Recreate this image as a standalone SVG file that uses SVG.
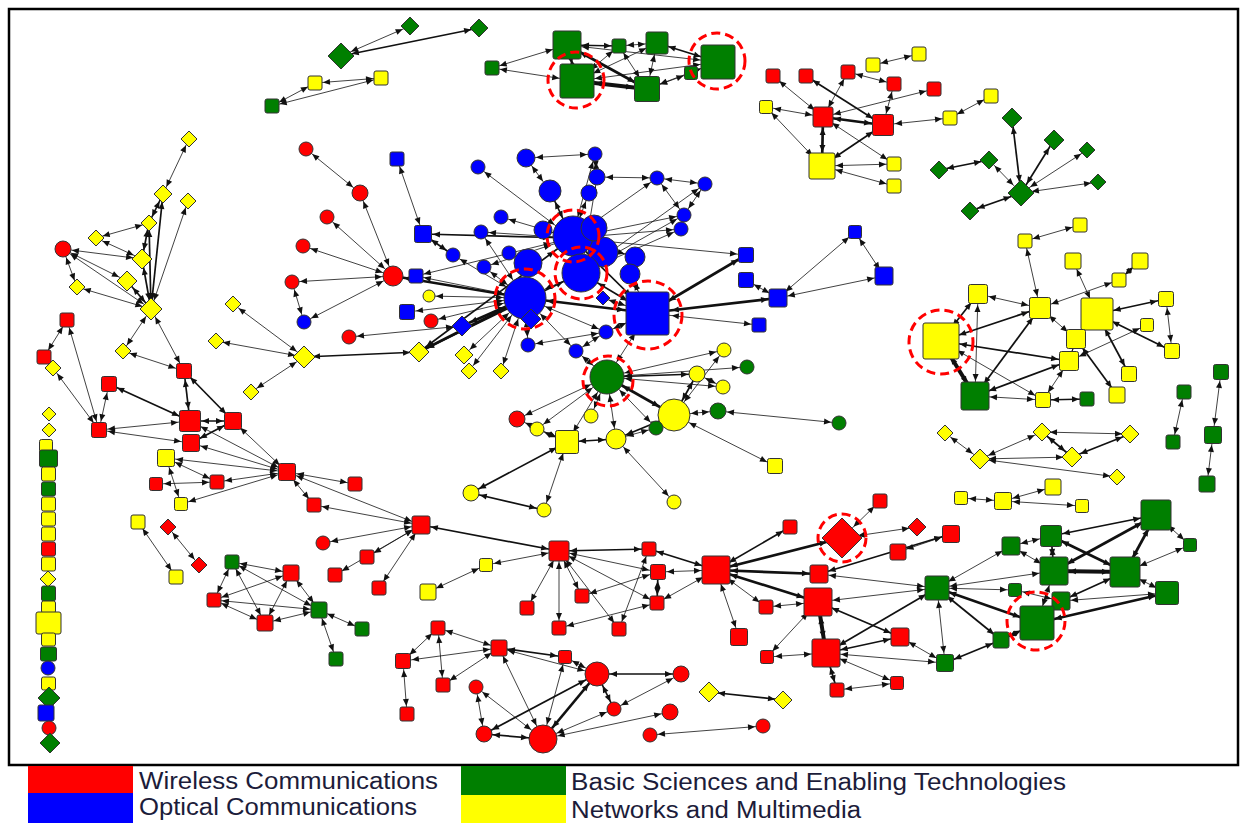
<svg xmlns="http://www.w3.org/2000/svg" width="1245" height="825" viewBox="0 0 1245 825">
<style>
.e line{stroke:#111;stroke-width:.8;fill:none}
.e .t2{stroke-width:1.7}
.e .t3{stroke-width:2.7}
.e .t4{stroke-width:4}
.n{stroke:#333;stroke-width:1}
.n rect{rx:2px}
.R{fill:#f00}.B{fill:#00f}.G{fill:#007f00}.Y{fill:#ff0}
.ring{fill:none;stroke:#f00;stroke-width:3;stroke-dasharray:9 5}
.lg{font-family:"Liberation Sans",Arial,sans-serif;font-size:23px;fill:#1c1c3a}
.s6{marker-start:url(#m6)}.s7{marker-start:url(#m7)}.s8{marker-start:url(#m8)}.s9{marker-start:url(#m9)}.s10{marker-start:url(#m10)}.s11{marker-start:url(#m11)}.s12{marker-start:url(#m12)}.s13{marker-start:url(#m13)}.s14{marker-start:url(#m14)}.s15{marker-start:url(#m15)}.s16{marker-start:url(#m16)}.s17{marker-start:url(#m17)}.s18{marker-start:url(#m18)}.s19{marker-start:url(#m19)}.s20{marker-start:url(#m20)}.s22{marker-start:url(#m22)}.s24{marker-start:url(#m24)}
.e6{marker-end:url(#m6)}.e7{marker-end:url(#m7)}.e8{marker-end:url(#m8)}.e9{marker-end:url(#m9)}.e10{marker-end:url(#m10)}.e11{marker-end:url(#m11)}.e12{marker-end:url(#m12)}.e13{marker-end:url(#m13)}.e14{marker-end:url(#m14)}.e15{marker-end:url(#m15)}.e16{marker-end:url(#m16)}.e17{marker-end:url(#m17)}.e18{marker-end:url(#m18)}.e19{marker-end:url(#m19)}.e20{marker-end:url(#m20)}.e22{marker-end:url(#m22)}.e24{marker-end:url(#m24)}
</style>
<defs>
<path id="ah" d="M0,0L-7,-3L-7,3z" fill="#111"/>
<marker id="m6" markerUnits="userSpaceOnUse" markerWidth="8" markerHeight="8" refX="6" refY="0" orient="auto-start-reverse" overflow="visible"><use href="#ah"/></marker>
<marker id="m7" markerUnits="userSpaceOnUse" markerWidth="8" markerHeight="8" refX="7" refY="0" orient="auto-start-reverse" overflow="visible"><use href="#ah"/></marker>
<marker id="m8" markerUnits="userSpaceOnUse" markerWidth="8" markerHeight="8" refX="8" refY="0" orient="auto-start-reverse" overflow="visible"><use href="#ah"/></marker>
<marker id="m9" markerUnits="userSpaceOnUse" markerWidth="8" markerHeight="8" refX="9" refY="0" orient="auto-start-reverse" overflow="visible"><use href="#ah"/></marker>
<marker id="m10" markerUnits="userSpaceOnUse" markerWidth="8" markerHeight="8" refX="10" refY="0" orient="auto-start-reverse" overflow="visible"><use href="#ah"/></marker>
<marker id="m11" markerUnits="userSpaceOnUse" markerWidth="8" markerHeight="8" refX="11" refY="0" orient="auto-start-reverse" overflow="visible"><use href="#ah"/></marker>
<marker id="m12" markerUnits="userSpaceOnUse" markerWidth="8" markerHeight="8" refX="12" refY="0" orient="auto-start-reverse" overflow="visible"><use href="#ah"/></marker>
<marker id="m13" markerUnits="userSpaceOnUse" markerWidth="8" markerHeight="8" refX="13" refY="0" orient="auto-start-reverse" overflow="visible"><use href="#ah"/></marker>
<marker id="m14" markerUnits="userSpaceOnUse" markerWidth="8" markerHeight="8" refX="14" refY="0" orient="auto-start-reverse" overflow="visible"><use href="#ah"/></marker>
<marker id="m15" markerUnits="userSpaceOnUse" markerWidth="8" markerHeight="8" refX="15" refY="0" orient="auto-start-reverse" overflow="visible"><use href="#ah"/></marker>
<marker id="m16" markerUnits="userSpaceOnUse" markerWidth="8" markerHeight="8" refX="16" refY="0" orient="auto-start-reverse" overflow="visible"><use href="#ah"/></marker>
<marker id="m17" markerUnits="userSpaceOnUse" markerWidth="8" markerHeight="8" refX="17" refY="0" orient="auto-start-reverse" overflow="visible"><use href="#ah"/></marker>
<marker id="m18" markerUnits="userSpaceOnUse" markerWidth="8" markerHeight="8" refX="18" refY="0" orient="auto-start-reverse" overflow="visible"><use href="#ah"/></marker>
<marker id="m19" markerUnits="userSpaceOnUse" markerWidth="8" markerHeight="8" refX="19" refY="0" orient="auto-start-reverse" overflow="visible"><use href="#ah"/></marker>
<marker id="m20" markerUnits="userSpaceOnUse" markerWidth="8" markerHeight="8" refX="20" refY="0" orient="auto-start-reverse" overflow="visible"><use href="#ah"/></marker>
<marker id="m22" markerUnits="userSpaceOnUse" markerWidth="8" markerHeight="8" refX="22" refY="0" orient="auto-start-reverse" overflow="visible"><use href="#ah"/></marker>
<marker id="m24" markerUnits="userSpaceOnUse" markerWidth="8" markerHeight="8" refX="24" refY="0" orient="auto-start-reverse" overflow="visible"><use href="#ah"/></marker>
</defs>
<rect width="1245" height="825" fill="#fff"/>
<rect x="9" y="9" width="1229" height="756" fill="none" stroke="#000" stroke-width="2.5"/>

<!-- connectors -->
<g id="edges" class="e">
<line x1="341" y1="56" x2="410" y2="26" class="s11 e8"/>
<line x1="479" y1="28" x2="341" y2="56" class="s8 e11 t2"/>
<line x1="315" y1="83" x2="381" y2="78" class="s8 e8"/>
<line x1="272" y1="106" x2="315" y2="83" class="s8 e8"/>
<line x1="381" y1="78" x2="272" y2="106" class="s8 e8"/>
<line x1="492" y1="68" x2="567" y2="45" class="s8 e15"/>
<line x1="492" y1="68" x2="577" y2="81" class="s8 e18"/>
<line x1="567" y1="45" x2="619" y2="46" class="s15 e8 t2"/>
<line x1="619" y1="46" x2="657" y2="43" class="s8 e12"/>
<line x1="657" y1="43" x2="718" y2="62" class="s12 e18 t2"/>
<line x1="567" y1="45" x2="647" y2="89" class="s15 e14 t3"/>
<line x1="577" y1="81" x2="647" y2="89" class="s18 e14 t4"/>
<line x1="577" y1="81" x2="619" y2="46" class="s18 e8"/>
<line x1="577" y1="81" x2="657" y2="43" class="s18 e12"/>
<line x1="567" y1="45" x2="577" y2="81" class="s15 e18 t2"/>
<line x1="647" y1="89" x2="691" y2="73" class="s14 e8"/>
<line x1="647" y1="89" x2="718" y2="62" class="s14 e18"/>
<line x1="657" y1="43" x2="647" y2="89" class="s12 e14"/>
<line x1="619" y1="46" x2="647" y2="89" class="s8 e14"/>
<line x1="577" y1="81" x2="718" y2="62" class="s18 e18"/>
<line x1="567" y1="45" x2="718" y2="62" class="s15 e18"/>
<line x1="773" y1="76" x2="823" y2="117" class="s8 e11"/>
<line x1="806" y1="76" x2="883" y2="125" class="s8 e12 t2"/>
<line x1="766" y1="107" x2="823" y2="117" class="s8 e11"/>
<line x1="766" y1="107" x2="822" y2="166" class="s8 e14"/>
<line x1="823" y1="117" x2="822" y2="166" class="s11 e14 t3"/>
<line x1="823" y1="117" x2="848" y2="72" class="s11 e8"/>
<line x1="848" y1="72" x2="894" y2="84" class="s8 e8"/>
<line x1="894" y1="84" x2="883" y2="125" class="s8 e12"/>
<line x1="934" y1="89" x2="823" y2="117" class="s8 e11"/>
<line x1="823" y1="117" x2="883" y2="125" class="s11 e12 t3"/>
<line x1="883" y1="125" x2="822" y2="166" class="s12 e14 t2"/>
<line x1="883" y1="125" x2="950" y2="118" class="s12 e8"/>
<line x1="950" y1="118" x2="991" y2="96" class="s8 e8"/>
<line x1="873" y1="65" x2="919" y2="54" class="s8 e8"/>
<line x1="823" y1="117" x2="894" y2="164" class="s11 e8"/>
<line x1="822" y1="166" x2="894" y2="164" class="s14 e8"/>
<line x1="822" y1="166" x2="894" y2="186" class="s14 e8"/>
<line x1="1021" y1="193" x2="1012" y2="118" class="s11 e9 t2"/>
<line x1="1021" y1="193" x2="1054" y2="140" class="s11 e9 t2"/>
<line x1="1021" y1="193" x2="1087" y2="150" class="s11 e7"/>
<line x1="1021" y1="193" x2="1098" y2="182" class="s11 e7"/>
<line x1="1021" y1="193" x2="989" y2="160" class="s11 e8"/>
<line x1="1021" y1="193" x2="970" y2="211" class="s11 e8 t2"/>
<line x1="989" y1="160" x2="939" y2="170" class="s8 e8 t2"/>
<line x1="1080" y1="225" x2="1025" y2="241" class="s8 e8"/>
<line x1="1025" y1="241" x2="1040" y2="308" class="s8 e12"/>
<line x1="1073" y1="261" x2="1097" y2="314" class="s9 e17"/>
<line x1="1140" y1="261" x2="1119" y2="280" class="s9 e8"/>
<line x1="1119" y1="280" x2="1040" y2="308" class="s8 e12"/>
<line x1="978" y1="294" x2="941" y2="341" class="s11 e19 t2"/>
<line x1="978" y1="294" x2="975" y2="396" class="s11 e15"/>
<line x1="978" y1="294" x2="1040" y2="308" class="s11 e12"/>
<line x1="1040" y1="308" x2="941" y2="341" class="s12 e19 t2"/>
<line x1="1040" y1="308" x2="975" y2="396" class="s12 e15 t2"/>
<line x1="1097" y1="314" x2="1166" y2="299" class="s17 e9 t2"/>
<line x1="1166" y1="299" x2="1172" y2="351" class="s9 e9"/>
<line x1="1097" y1="314" x2="1172" y2="351" class="s17 e9 t2"/>
<line x1="1097" y1="314" x2="1129" y2="374" class="s17 e9 t2"/>
<line x1="1040" y1="308" x2="1076" y2="339" class="s12 e11"/>
<line x1="1076" y1="339" x2="1117" y2="395" class="s11 e9 t2"/>
<line x1="1069" y1="361" x2="941" y2="341" class="s11 e19 t2"/>
<line x1="1069" y1="361" x2="975" y2="396" class="s11 e15 t2"/>
<line x1="1069" y1="361" x2="1043" y2="400" class="s11 e9"/>
<line x1="941" y1="341" x2="1043" y2="400" class="s19 e9"/>
<line x1="941" y1="341" x2="975" y2="396" class="s19 e15 t4"/>
<line x1="1043" y1="400" x2="1087" y2="399" class="s9 e8 t2"/>
<line x1="975" y1="396" x2="1043" y2="400" class="s15 e9"/>
<line x1="1147" y1="325" x2="1069" y2="361" class="s8 e11"/>
<line x1="1076" y1="339" x2="1069" y2="361" class="s11 e11"/>
<line x1="1221" y1="372" x2="1213" y2="435" class="s9 e10"/>
<line x1="1213" y1="435" x2="1207" y2="484" class="s10 e9"/>
<line x1="1184" y1="392" x2="1173" y2="442" class="s8 e8"/>
<line x1="945" y1="433" x2="980" y2="459" class="s7 e9"/>
<line x1="980" y1="459" x2="1042" y2="432" class="s9 e8"/>
<line x1="980" y1="459" x2="1072" y2="457" class="s9 e9"/>
<line x1="1042" y1="432" x2="1072" y2="457" class="s8 e9 t2"/>
<line x1="1130" y1="434" x2="1042" y2="432" class="s8 e8"/>
<line x1="1072" y1="457" x2="1130" y2="434" class="s9 e8 t2"/>
<line x1="980" y1="459" x2="1117" y2="477" class="s9 e7"/>
<line x1="961" y1="498" x2="1003" y2="501" class="s8 e10"/>
<line x1="1003" y1="501" x2="1053" y2="487" class="s10 e9"/>
<line x1="1003" y1="501" x2="1082" y2="506" class="s10 e8"/>
<line x1="526" y1="158" x2="595" y2="154" class="s10 e8"/>
<line x1="526" y1="158" x2="550" y2="191" class="s10 e12"/>
<line x1="595" y1="154" x2="597" y2="177" class="s8 e9"/>
<line x1="597" y1="177" x2="657" y2="178" class="s9 e8"/>
<line x1="657" y1="178" x2="705" y2="184" class="s8 e8"/>
<line x1="657" y1="178" x2="684" y2="215" class="s8 e8"/>
<line x1="705" y1="184" x2="684" y2="215" class="s8 e8"/>
<line x1="478" y1="167" x2="572" y2="238" class="s8 e22"/>
<line x1="550" y1="191" x2="572" y2="238" class="s12 e22 t2"/>
<line x1="589" y1="193" x2="572" y2="238" class="s9 e22"/>
<line x1="597" y1="177" x2="581" y2="273" class="s9 e20"/>
<line x1="684" y1="215" x2="581" y2="273" class="s8 e20"/>
<line x1="681" y1="229" x2="572" y2="238" class="s8 e22"/>
<line x1="657" y1="178" x2="572" y2="238" class="s8 e22"/>
<line x1="501" y1="217" x2="572" y2="238" class="s8 e22"/>
<line x1="481" y1="232" x2="525" y2="298" class="s8 e22"/>
<line x1="423" y1="234" x2="453" y2="255" class="s10 e8 t2"/>
<line x1="453" y1="255" x2="525" y2="298" class="s8 e22"/>
<line x1="484" y1="267" x2="525" y2="298" class="s8 e22"/>
<line x1="416" y1="276" x2="525" y2="298" class="s8 e22"/>
<line x1="393" y1="276" x2="525" y2="298" class="s11 e22 t3"/>
<line x1="407" y1="312" x2="525" y2="298" class="s9 e22"/>
<line x1="462" y1="326" x2="525" y2="298" class="s9 e22 t3"/>
<line x1="419" y1="352" x2="525" y2="298" class="s9 e22 t3"/>
<line x1="419" y1="352" x2="572" y2="238" class="s9 e22 t2"/>
<line x1="419" y1="352" x2="581" y2="273" class="s9 e20 t2"/>
<line x1="464" y1="355" x2="525" y2="298" class="s8 e22"/>
<line x1="469" y1="371" x2="525" y2="298" class="s7 e22"/>
<line x1="501" y1="371" x2="525" y2="298" class="s7 e22"/>
<line x1="528" y1="345" x2="525" y2="298" class="s8 e22"/>
<line x1="576" y1="351" x2="525" y2="298" class="s8 e22"/>
<line x1="606" y1="332" x2="525" y2="298" class="s8 e22"/>
<line x1="525" y1="298" x2="648" y2="313" class="s22 e24 t3"/>
<line x1="572" y1="238" x2="648" y2="313" class="s22 e24 t2"/>
<line x1="581" y1="273" x2="648" y2="313" class="s20 e24 t2"/>
<line x1="648" y1="313" x2="746" y2="255" class="s24 e9 t3"/>
<line x1="648" y1="313" x2="778" y2="298" class="s24 e10 t3"/>
<line x1="648" y1="313" x2="759" y2="325" class="s24 e8"/>
<line x1="778" y1="298" x2="746" y2="280" class="s10 e9"/>
<line x1="778" y1="298" x2="855" y2="232" class="s10 e8"/>
<line x1="855" y1="232" x2="884" y2="276" class="s8 e8"/>
<line x1="884" y1="276" x2="778" y2="298" class="s10 e10"/>
<line x1="606" y1="332" x2="648" y2="313" class="s8 e24"/>
<line x1="606" y1="332" x2="576" y2="351" class="s8 e8"/>
<line x1="576" y1="351" x2="607" y2="377" class="s8 e18"/>
<line x1="528" y1="345" x2="606" y2="332" class="s8 e8"/>
<line x1="431" y1="321" x2="525" y2="298" class="s8 e22"/>
<line x1="429" y1="296" x2="525" y2="298" class="s7 e22"/>
<line x1="349" y1="337" x2="462" y2="326" class="s8 e9"/>
<line x1="397" y1="159" x2="423" y2="234" class="s8 e10"/>
<line x1="543" y1="230" x2="572" y2="238" class="s10 e22"/>
<line x1="635" y1="257" x2="572" y2="238" class="s11 e22"/>
<line x1="630" y1="273" x2="648" y2="313" class="s11 e24"/>
<line x1="481" y1="232" x2="572" y2="238" class="s8 e22"/>
<line x1="484" y1="267" x2="572" y2="238" class="s8 e22"/>
<line x1="423" y1="234" x2="572" y2="238" class="s10 e22 t2"/>
<line x1="595" y1="154" x2="572" y2="238" class="s8 e22"/>
<line x1="746" y1="255" x2="572" y2="238" class="s9 e22"/>
<line x1="705" y1="184" x2="581" y2="273" class="s8 e20"/>
<line x1="684" y1="215" x2="572" y2="238" class="s8 e22"/>
<line x1="681" y1="229" x2="525" y2="298" class="s8 e22"/>
<line x1="416" y1="276" x2="572" y2="238" class="s8 e22"/>
<line x1="603" y1="298" x2="648" y2="313" class="s6 e24"/>
<line x1="360" y1="193" x2="393" y2="276" class="s9 e11"/>
<line x1="306" y1="149" x2="360" y2="193" class="s8 e9"/>
<line x1="393" y1="276" x2="327" y2="217" class="s11 e8"/>
<line x1="393" y1="276" x2="303" y2="246" class="s11 e8"/>
<line x1="292" y1="282" x2="393" y2="276" class="s8 e11"/>
<line x1="292" y1="282" x2="304" y2="322" class="s8 e8"/>
<line x1="393" y1="276" x2="304" y2="322" class="s11 e8"/>
<line x1="304" y1="357" x2="233" y2="304" class="s9 e7"/>
<line x1="304" y1="357" x2="216" y2="341" class="s9 e7"/>
<line x1="304" y1="357" x2="251" y2="392" class="s9 e7"/>
<line x1="304" y1="357" x2="419" y2="352" class="s9 e9 t2"/>
<line x1="648" y1="313" x2="607" y2="377" class="s24 e18"/>
<line x1="607" y1="377" x2="724" y2="350" class="s18 e8"/>
<line x1="607" y1="377" x2="747" y2="367" class="s18 e8"/>
<line x1="607" y1="377" x2="697" y2="374" class="s18 e9 t2"/>
<line x1="607" y1="377" x2="723" y2="387" class="s18 e8"/>
<line x1="607" y1="377" x2="674" y2="415" class="s18 e17 t3"/>
<line x1="607" y1="377" x2="656" y2="428" class="s18 e8"/>
<line x1="607" y1="377" x2="616" y2="439" class="s18 e11"/>
<line x1="607" y1="377" x2="591" y2="416" class="s18 e8"/>
<line x1="607" y1="377" x2="567" y2="442" class="s18 e12"/>
<line x1="607" y1="377" x2="537" y2="429" class="s18 e8"/>
<line x1="607" y1="377" x2="517" y2="419" class="s18 e9"/>
<line x1="674" y1="415" x2="697" y2="374" class="s17 e9 t2"/>
<line x1="674" y1="415" x2="724" y2="350" class="s17 e8"/>
<line x1="674" y1="415" x2="718" y2="411" class="s17 e9"/>
<line x1="718" y1="411" x2="839" y2="423" class="s9 e8"/>
<line x1="674" y1="415" x2="775" y2="466" class="s17 e9"/>
<line x1="616" y1="439" x2="674" y2="502" class="s11 e8"/>
<line x1="567" y1="442" x2="616" y2="439" class="s12 e11 t2"/>
<line x1="567" y1="442" x2="471" y2="493" class="s12 e9 t2"/>
<line x1="567" y1="442" x2="544" y2="510" class="s12 e8"/>
<line x1="471" y1="493" x2="544" y2="510" class="s9 e8 t2"/>
<line x1="537" y1="429" x2="567" y2="442" class="s8 e12"/>
<line x1="517" y1="419" x2="567" y2="442" class="s9 e12"/>
<line x1="616" y1="439" x2="656" y2="428" class="s11 e8"/>
<line x1="616" y1="439" x2="674" y2="415" class="s11 e17 t2"/>
<line x1="697" y1="374" x2="723" y2="387" class="s9 e8"/>
<line x1="189" y1="139" x2="163" y2="194" class="s7 e8"/>
<line x1="163" y1="194" x2="151" y2="309" class="s8 e9 t2"/>
<line x1="163" y1="194" x2="149" y2="223" class="s8 e7 t2"/>
<line x1="149" y1="223" x2="96" y2="238" class="s7 e7"/>
<line x1="63" y1="249" x2="142" y2="259" class="s9 e9"/>
<line x1="63" y1="249" x2="77" y2="287" class="s9 e7"/>
<line x1="63" y1="249" x2="127" y2="281" class="s9 e9"/>
<line x1="63" y1="249" x2="151" y2="309" class="s9 e9"/>
<line x1="142" y1="259" x2="151" y2="309" class="s9 e9 t2"/>
<line x1="127" y1="281" x2="151" y2="309" class="s9 e9 t2"/>
<line x1="149" y1="223" x2="151" y2="309" class="s7 e9 t2"/>
<line x1="188" y1="201" x2="151" y2="309" class="s7 e9"/>
<line x1="77" y1="287" x2="151" y2="309" class="s7 e9"/>
<line x1="96" y1="238" x2="142" y2="259" class="s7 e9"/>
<line x1="149" y1="223" x2="142" y2="259" class="s7 e9 t2"/>
<line x1="151" y1="309" x2="123" y2="351" class="s9 e7"/>
<line x1="151" y1="309" x2="184" y2="371" class="s9 e9"/>
<line x1="123" y1="351" x2="184" y2="371" class="s7 e9"/>
<line x1="67" y1="320" x2="44" y2="357" class="s8 e8"/>
<line x1="67" y1="320" x2="99" y2="430" class="s8 e9"/>
<line x1="53" y1="368" x2="99" y2="430" class="s7 e9"/>
<line x1="184" y1="371" x2="190" y2="421" class="s9 e12 t2"/>
<line x1="184" y1="371" x2="233" y2="421" class="s9 e10 t2"/>
<line x1="109" y1="384" x2="190" y2="421" class="s9 e12 t2"/>
<line x1="190" y1="421" x2="233" y2="421" class="s12 e10 t2"/>
<line x1="99" y1="430" x2="190" y2="421" class="s9 e12"/>
<line x1="191" y1="443" x2="99" y2="430" class="s10 e9"/>
<line x1="191" y1="443" x2="233" y2="421" class="s10 e10 t2"/>
<line x1="109" y1="384" x2="99" y2="430" class="s9 e9"/>
<line x1="287" y1="472" x2="233" y2="421" class="s10 e10"/>
<line x1="287" y1="472" x2="190" y2="421" class="s10 e12"/>
<line x1="287" y1="472" x2="191" y2="443" class="s10 e10"/>
<line x1="287" y1="472" x2="166" y2="458" class="s10 e10"/>
<line x1="287" y1="472" x2="217" y2="482" class="s10 e8"/>
<line x1="287" y1="472" x2="181" y2="504" class="s10 e8"/>
<line x1="287" y1="472" x2="355" y2="484" class="s10 e8"/>
<line x1="287" y1="472" x2="314" y2="505" class="s10 e8"/>
<line x1="421" y1="525" x2="314" y2="505" class="s10 e8"/>
<line x1="421" y1="525" x2="287" y2="472" class="s10 e10"/>
<line x1="166" y1="458" x2="217" y2="482" class="s10 e8"/>
<line x1="166" y1="458" x2="181" y2="504" class="s10 e8"/>
<line x1="217" y1="482" x2="156" y2="484" class="s8 e8"/>
<line x1="138" y1="522" x2="176" y2="577" class="s8 e8"/>
<line x1="168" y1="527" x2="199" y2="565" class="s7 e7"/>
<line x1="421" y1="525" x2="559" y2="551" class="s10 e11 t2"/>
<line x1="421" y1="525" x2="323" y2="543" class="s10 e8"/>
<line x1="421" y1="525" x2="367" y2="557" class="s10 e8"/>
<line x1="421" y1="525" x2="335" y2="575" class="s10 e8"/>
<line x1="421" y1="525" x2="379" y2="588" class="s10 e8"/>
<line x1="232" y1="562" x2="291" y2="573" class="s8 e9"/>
<line x1="232" y1="562" x2="214" y2="600" class="s8 e8"/>
<line x1="232" y1="562" x2="265" y2="623" class="s8 e9"/>
<line x1="232" y1="562" x2="319" y2="610" class="s8 e9"/>
<line x1="291" y1="573" x2="214" y2="600" class="s9 e8"/>
<line x1="291" y1="573" x2="265" y2="623" class="s9 e9"/>
<line x1="291" y1="573" x2="319" y2="610" class="s9 e9"/>
<line x1="214" y1="600" x2="319" y2="610" class="s8 e9"/>
<line x1="214" y1="600" x2="265" y2="623" class="s8 e9"/>
<line x1="265" y1="623" x2="319" y2="610" class="s9 e9"/>
<line x1="319" y1="610" x2="362" y2="629" class="s9 e8"/>
<line x1="319" y1="610" x2="336" y2="659" class="s9 e8"/>
<line x1="559" y1="551" x2="486" y2="565" class="s11 e8"/>
<line x1="486" y1="565" x2="428" y2="592" class="s8 e9"/>
<line x1="559" y1="551" x2="527" y2="608" class="s11 e8"/>
<line x1="559" y1="551" x2="582" y2="596" class="s11 e8"/>
<line x1="559" y1="551" x2="559" y2="628" class="s11 e8"/>
<line x1="559" y1="551" x2="619" y2="629" class="s11 e8"/>
<line x1="559" y1="551" x2="649" y2="549" class="s11 e8 t2"/>
<line x1="559" y1="551" x2="658" y2="572" class="s11 e9"/>
<line x1="559" y1="551" x2="657" y2="603" class="s11 e8"/>
<line x1="649" y1="549" x2="716" y2="570" class="s8 e15 t2"/>
<line x1="658" y1="572" x2="716" y2="570" class="s9 e15"/>
<line x1="658" y1="572" x2="657" y2="603" class="s9 e8 t2"/>
<line x1="657" y1="603" x2="716" y2="570" class="s8 e15"/>
<line x1="582" y1="596" x2="658" y2="572" class="s8 e9"/>
<line x1="559" y1="628" x2="657" y2="603" class="s8 e8"/>
<line x1="619" y1="629" x2="649" y2="549" class="s8 e8"/>
<line x1="716" y1="570" x2="790" y2="527" class="s15 e8 t2"/>
<line x1="716" y1="570" x2="842" y2="538" class="s15 e16 t3"/>
<line x1="716" y1="570" x2="819" y2="574" class="s15 e10 t3"/>
<line x1="716" y1="570" x2="818" y2="602" class="s15 e15 t3"/>
<line x1="716" y1="570" x2="766" y2="607" class="s15 e8"/>
<line x1="716" y1="570" x2="739" y2="637" class="s15 e10"/>
<line x1="842" y1="538" x2="880" y2="501" class="s16 e8"/>
<line x1="842" y1="538" x2="917" y2="527" class="s16 e8"/>
<line x1="819" y1="574" x2="951" y2="534" class="s10 e10 t2"/>
<line x1="898" y1="552" x2="951" y2="534" class="s9 e10"/>
<line x1="818" y1="602" x2="766" y2="607" class="s15 e8"/>
<line x1="818" y1="602" x2="826" y2="653" class="s15 e15 t4"/>
<line x1="818" y1="602" x2="937" y2="588" class="s15 e13"/>
<line x1="826" y1="653" x2="937" y2="588" class="s15 e13 t2"/>
<line x1="826" y1="653" x2="900" y2="637" class="s15 e10 t2"/>
<line x1="826" y1="653" x2="945" y2="663" class="s15 e10"/>
<line x1="826" y1="653" x2="897" y2="683" class="s15 e8"/>
<line x1="826" y1="653" x2="837" y2="690" class="s15 e8 t2"/>
<line x1="837" y1="690" x2="897" y2="683" class="s8 e8"/>
<line x1="767" y1="657" x2="826" y2="653" class="s8 e15"/>
<line x1="767" y1="657" x2="818" y2="602" class="s8 e15"/>
<line x1="818" y1="602" x2="900" y2="637" class="s15 e10 t2"/>
<line x1="937" y1="588" x2="819" y2="574" class="s13 e10"/>
<line x1="937" y1="588" x2="1015" y2="590" class="s13 e8"/>
<line x1="937" y1="588" x2="1054" y2="571" class="s13 e15"/>
<line x1="937" y1="588" x2="1011" y2="546" class="s13 e10"/>
<line x1="937" y1="588" x2="1001" y2="640" class="s13 e9 t2"/>
<line x1="937" y1="588" x2="945" y2="663" class="s13 e10"/>
<line x1="937" y1="588" x2="1037" y2="623" class="s13 e18 t3"/>
<line x1="900" y1="637" x2="945" y2="663" class="s10 e10"/>
<line x1="1001" y1="640" x2="945" y2="663" class="s9 e10 t2"/>
<line x1="1001" y1="640" x2="1037" y2="623" class="s9 e18 t2"/>
<line x1="1037" y1="623" x2="1167" y2="593" class="s18 e12 t3"/>
<line x1="1037" y1="623" x2="1054" y2="571" class="s18 e15"/>
<line x1="1061" y1="601" x2="1125" y2="572" class="s10 e16 t2"/>
<line x1="1061" y1="601" x2="1167" y2="593" class="s10 e12"/>
<line x1="1054" y1="571" x2="1125" y2="572" class="s15 e16 t4"/>
<line x1="1054" y1="571" x2="1156" y2="515" class="s15 e16 t3"/>
<line x1="1125" y1="572" x2="1156" y2="515" class="s16 e16 t3"/>
<line x1="1051" y1="536" x2="1156" y2="515" class="s12 e16 t2"/>
<line x1="1051" y1="536" x2="1125" y2="572" class="s12 e16 t3"/>
<line x1="1011" y1="546" x2="1051" y2="536" class="s10 e12"/>
<line x1="1156" y1="515" x2="1190" y2="545" class="s16 e8"/>
<line x1="1125" y1="572" x2="1190" y2="545" class="s16 e8"/>
<line x1="1167" y1="593" x2="1125" y2="572" class="s12 e16"/>
<line x1="1054" y1="571" x2="1011" y2="546" class="s15 e10"/>
<line x1="1015" y1="590" x2="1061" y2="601" class="s8 e10"/>
<line x1="1051" y1="536" x2="1054" y2="571" class="s12 e15 t2"/>
<line x1="438" y1="628" x2="499" y2="648" class="s8 e9"/>
<line x1="438" y1="628" x2="443" y2="685" class="s8 e8"/>
<line x1="403" y1="661" x2="438" y2="628" class="s9 e8"/>
<line x1="443" y1="685" x2="499" y2="648" class="s8 e9"/>
<line x1="403" y1="661" x2="499" y2="648" class="s9 e9"/>
<line x1="403" y1="661" x2="407" y2="714" class="s9 e8"/>
<line x1="499" y1="648" x2="565" y2="657" class="s9 e8 t2"/>
<line x1="499" y1="648" x2="597" y2="674" class="s9 e13"/>
<line x1="499" y1="648" x2="543" y2="739" class="s9 e15"/>
<line x1="565" y1="657" x2="597" y2="674" class="s8 e13"/>
<line x1="565" y1="657" x2="543" y2="739" class="s8 e15"/>
<line x1="597" y1="674" x2="681" y2="674" class="s13 e9 t2"/>
<line x1="597" y1="674" x2="614" y2="709" class="s13 e8 t2"/>
<line x1="597" y1="674" x2="543" y2="739" class="s13 e15 t3"/>
<line x1="597" y1="674" x2="484" y2="734" class="s13 e9 t2"/>
<line x1="476" y1="687" x2="484" y2="734" class="s8 e9"/>
<line x1="476" y1="687" x2="543" y2="739" class="s8 e15"/>
<line x1="484" y1="734" x2="543" y2="739" class="s9 e15 t2"/>
<line x1="614" y1="709" x2="543" y2="739" class="s8 e15"/>
<line x1="543" y1="739" x2="670" y2="712" class="s15 e9"/>
<line x1="650" y1="735" x2="763" y2="726" class="s8 e8"/>
<line x1="709" y1="692" x2="783" y2="700" class="s9 e8 t2"/>
<line x1="614" y1="709" x2="681" y2="674" class="s8 e9"/>
</g>

<!-- nodes -->
<g id="nodes">
<g id="n1" class="n G"><polygon points="341,43 354,56 341,69 328,56"/></g>
<g id="n2" class="n G"><polygon points="410,17 419,26 410,35 401,26"/></g>
<g id="n3" class="n G"><polygon points="479,19 488,28 479,37 470,28"/></g>
<g id="n4" class="n Y"><rect x="308" y="76" width="14" height="14"/></g>
<g id="n5" class="n Y"><rect x="374" y="71" width="14" height="14"/></g>
<g id="n6" class="n G"><rect x="265" y="99" width="14" height="14"/></g>
<g id="n7" class="n G"><rect x="553" y="31" width="28" height="28"/></g>
<g id="n8" class="n G"><rect x="612" y="39" width="14" height="14"/></g>
<g id="n9" class="n G"><rect x="646" y="32" width="22" height="22"/></g>
<g id="n10" class="n G"><rect x="684.5" y="66.5" width="13" height="13"/></g>
<g id="n11" class="n G"><rect x="701" y="45" width="34" height="34"/></g>
<g id="n12" class="n G"><rect x="560" y="64" width="34" height="34"/></g>
<g id="n13" class="n G"><rect x="634.5" y="76.5" width="25" height="25"/></g>
<g id="n14" class="n G"><rect x="485" y="61" width="14" height="14"/></g>
<g id="n15" class="n R"><rect x="766" y="69" width="14" height="14"/></g>
<g id="n16" class="n R"><rect x="799" y="69" width="14" height="14"/></g>
<g id="n17" class="n Y"><rect x="759.5" y="100.5" width="13" height="13"/></g>
<g id="n18" class="n R"><rect x="813" y="107" width="20" height="20"/></g>
<g id="n19" class="n Y"><rect x="809" y="153" width="26" height="26"/></g>
<g id="n20" class="n Y"><rect x="866" y="58" width="14" height="14"/></g>
<g id="n21" class="n Y"><rect x="912" y="47" width="14" height="14"/></g>
<g id="n22" class="n R"><rect x="841" y="65" width="14" height="14"/></g>
<g id="n23" class="n R"><rect x="887" y="77" width="14" height="14"/></g>
<g id="n24" class="n R"><rect x="927" y="82" width="14" height="14"/></g>
<g id="n25" class="n R"><rect x="872.5" y="114.5" width="21" height="21"/></g>
<g id="n26" class="n Y"><rect x="943" y="111" width="14" height="14"/></g>
<g id="n27" class="n Y"><rect x="984" y="89" width="14" height="14"/></g>
<g id="n28" class="n Y"><rect x="887" y="157" width="14" height="14"/></g>
<g id="n29" class="n Y"><rect x="887" y="179" width="14" height="14"/></g>
<g id="n30" class="n G"><polygon points="1021,180 1034,193 1021,206 1008,193"/></g>
<g id="n31" class="n G"><polygon points="1012,108 1022,118 1012,128 1002,118"/></g>
<g id="n32" class="n G"><polygon points="1054,130 1064,140 1054,150 1044,140"/></g>
<g id="n33" class="n G"><polygon points="1087,142 1095,150 1087,158 1079,150"/></g>
<g id="n34" class="n G"><polygon points="1098,174 1106,182 1098,190 1090,182"/></g>
<g id="n35" class="n G"><polygon points="989,151 998,160 989,169 980,160"/></g>
<g id="n36" class="n G"><polygon points="939,161 948,170 939,179 930,170"/></g>
<g id="n37" class="n G"><polygon points="970,202 979,211 970,220 961,211"/></g>
<g id="n38" class="n Y"><rect x="1073" y="218" width="14" height="14"/></g>
<g id="n39" class="n Y"><rect x="1018" y="234" width="14" height="14"/></g>
<g id="n40" class="n Y"><rect x="1065" y="253" width="16" height="16"/></g>
<g id="n41" class="n Y"><rect x="1132" y="253" width="16" height="16"/></g>
<g id="n42" class="n Y"><rect x="1112" y="273" width="14" height="14"/></g>
<g id="n43" class="n Y"><rect x="968.5" y="284.5" width="19" height="19"/></g>
<g id="n44" class="n Y"><rect x="1029.5" y="297.5" width="21" height="21"/></g>
<g id="n45" class="n Y"><rect x="1081" y="298" width="32" height="32"/></g>
<g id="n46" class="n Y"><rect x="1158.5" y="291.5" width="15" height="15"/></g>
<g id="n47" class="n Y"><rect x="1140.5" y="318.5" width="13" height="13"/></g>
<g id="n48" class="n Y"><rect x="1066.5" y="329.5" width="19" height="19"/></g>
<g id="n49" class="n Y"><rect x="923" y="323" width="36" height="36"/></g>
<g id="n50" class="n Y"><rect x="1059.5" y="351.5" width="19" height="19"/></g>
<g id="n51" class="n Y"><rect x="1164.5" y="343.5" width="15" height="15"/></g>
<g id="n52" class="n Y"><rect x="1121.5" y="366.5" width="15" height="15"/></g>
<g id="n53" class="n Y"><rect x="1109" y="387" width="16" height="16"/></g>
<g id="n54" class="n G"><rect x="961" y="382" width="28" height="28"/></g>
<g id="n55" class="n Y"><rect x="1035.5" y="392.5" width="15" height="15"/></g>
<g id="n56" class="n G"><rect x="1080" y="392" width="14" height="14"/></g>
<g id="n57" class="n G"><rect x="1213.5" y="364.5" width="15" height="15"/></g>
<g id="n58" class="n G"><rect x="1177" y="385" width="14" height="14"/></g>
<g id="n59" class="n G"><rect x="1166" y="435" width="14" height="14"/></g>
<g id="n60" class="n G"><rect x="1204.5" y="426.5" width="17" height="17"/></g>
<g id="n61" class="n G"><rect x="1199" y="476" width="16" height="16"/></g>
<g id="n62" class="n Y"><polygon points="945,425 953,433 945,441 937,433"/></g>
<g id="n63" class="n Y"><polygon points="980,449 990,459 980,469 970,459"/></g>
<g id="n64" class="n Y"><polygon points="1042,423 1051,432 1042,441 1033,432"/></g>
<g id="n65" class="n Y"><polygon points="1072,447 1082,457 1072,467 1062,457"/></g>
<g id="n66" class="n Y"><polygon points="1130,425 1139,434 1130,443 1121,434"/></g>
<g id="n67" class="n Y"><polygon points="1117,469 1125,477 1117,485 1109,477"/></g>
<g id="n68" class="n Y"><rect x="954.5" y="491.5" width="13" height="13"/></g>
<g id="n69" class="n Y"><rect x="994.5" y="492.5" width="17" height="17"/></g>
<g id="n70" class="n Y"><rect x="1045" y="479" width="16" height="16"/></g>
<g id="n71" class="n Y"><rect x="1075.5" y="499.5" width="13" height="13"/></g>
<g id="n72" class="n B"><circle cx="526" cy="158" r="9"/></g>
<g id="n73" class="n B"><circle cx="595" cy="154" r="7"/></g>
<g id="n74" class="n B"><circle cx="478" cy="167" r="7"/></g>
<g id="n75" class="n B"><circle cx="597" cy="177" r="8"/></g>
<g id="n76" class="n B"><circle cx="657" cy="178" r="7"/></g>
<g id="n77" class="n B"><circle cx="705" cy="184" r="7"/></g>
<g id="n78" class="n B"><circle cx="550" cy="191" r="11"/></g>
<g id="n79" class="n B"><circle cx="589" cy="193" r="8"/></g>
<g id="n80" class="n B"><circle cx="684" cy="215" r="7"/></g>
<g id="n81" class="n B"><circle cx="681" cy="229" r="7"/></g>
<g id="n82" class="n B"><circle cx="501" cy="217" r="7"/></g>
<g id="n83" class="n B"><circle cx="481" cy="232" r="7"/></g>
<g id="n84" class="n B"><rect x="414.5" y="225.5" width="17" height="17"/></g>
<g id="n85" class="n B"><circle cx="453" cy="255" r="7"/></g>
<g id="n86" class="n B"><circle cx="484" cy="267" r="7"/></g>
<g id="n87" class="n B"><circle cx="543" cy="230" r="9"/></g>
<g id="n91" class="n B"><circle cx="509" cy="253" r="7"/></g>
<g id="n90" class="n B"><circle cx="635" cy="257" r="10"/></g>
<g id="n93" class="n B"><circle cx="630" cy="274" r="10"/></g>
<g id="n89" class="n B"><circle cx="603" cy="252" r="15"/></g>
<g id="n94" class="n B"><circle cx="573" cy="236" r="20"/></g>
<g id="n88" class="n B"><circle cx="594" cy="228" r="13"/></g>
<g id="n92" class="n B"><circle cx="528" cy="263" r="14"/></g>
<g id="n95" class="n B"><circle cx="581" cy="273" r="19"/></g>
<g id="n96" class="n B"><circle cx="525" cy="298" r="21"/></g>
<g id="n97" class="n B"><rect x="626" y="292" width="43" height="43"/></g>
<g id="n98" class="n B"><rect x="738.5" y="247.5" width="15" height="15"/></g>
<g id="n99" class="n B"><rect x="848.5" y="225.5" width="13" height="13"/></g>
<g id="n100" class="n B"><rect x="875" y="267" width="18" height="18"/></g>
<g id="n101" class="n B"><rect x="769" y="289" width="18" height="18"/></g>
<g id="n102" class="n B"><rect x="738.5" y="272.5" width="15" height="15"/></g>
<g id="n103" class="n B"><rect x="752" y="318" width="14" height="14"/></g>
<g id="n104" class="n B"><polygon points="603,291 610,298 603,305 596,298"/></g>
<g id="n105" class="n B"><rect x="409" y="269" width="14" height="14"/></g>
<g id="n106" class="n B"><rect x="390" y="152" width="14" height="14"/></g>
<g id="n107" class="n B"><rect x="399.5" y="304.5" width="15" height="15"/></g>
<g id="n108" class="n B"><polygon points="462,316 472,326 462,336 452,326"/></g>
<g id="n109" class="n B"><polygon points="531,309 541,319 531,329 521,319"/></g>
<g id="n110" class="n B"><circle cx="606" cy="332" r="7"/></g>
<g id="n111" class="n B"><circle cx="576" cy="351" r="7"/></g>
<g id="n112" class="n B"><circle cx="528" cy="345" r="7"/></g>
<g id="n113" class="n B"><circle cx="304" cy="322" r="7"/></g>
<g id="n114" class="n R"><circle cx="306" cy="149" r="7"/></g>
<g id="n115" class="n R"><circle cx="360" cy="193" r="8"/></g>
<g id="n116" class="n R"><circle cx="327" cy="217" r="7"/></g>
<g id="n117" class="n R"><circle cx="303" cy="246" r="7"/></g>
<g id="n118" class="n R"><circle cx="393" cy="276" r="10"/></g>
<g id="n119" class="n R"><circle cx="292" cy="282" r="7"/></g>
<g id="n120" class="n R"><circle cx="349" cy="337" r="7"/></g>
<g id="n121" class="n R"><circle cx="431" cy="321" r="7"/></g>
<g id="n122" class="n Y"><circle cx="429" cy="296" r="6"/></g>
<g id="n123" class="n Y"><polygon points="419,342 429,352 419,362 409,352"/></g>
<g id="n124" class="n Y"><polygon points="464,346 473,355 464,364 455,355"/></g>
<g id="n125" class="n Y"><polygon points="469,363 477,371 469,379 461,371"/></g>
<g id="n126" class="n Y"><polygon points="501,363 509,371 501,379 493,371"/></g>
<g id="n127" class="n Y"><polygon points="304,346 315,357 304,368 293,357"/></g>
<g id="n128" class="n Y"><polygon points="233,296 241,304 233,312 225,304"/></g>
<g id="n129" class="n Y"><polygon points="216,333 224,341 216,349 208,341"/></g>
<g id="n130" class="n Y"><polygon points="251,384 259,392 251,400 243,392"/></g>
<g id="n131" class="n G"><circle cx="607" cy="377" r="17"/></g>
<g id="n132" class="n Y"><circle cx="724" cy="350" r="7"/></g>
<g id="n133" class="n G"><circle cx="747" cy="367" r="7"/></g>
<g id="n134" class="n Y"><circle cx="697" cy="374" r="8"/></g>
<g id="n135" class="n Y"><circle cx="723" cy="387" r="7"/></g>
<g id="n136" class="n Y"><circle cx="674" cy="415" r="16"/></g>
<g id="n137" class="n G"><circle cx="718" cy="411" r="8"/></g>
<g id="n138" class="n G"><circle cx="656" cy="428" r="7"/></g>
<g id="n139" class="n Y"><circle cx="616" cy="439" r="10"/></g>
<g id="n140" class="n Y"><rect x="555.5" y="430.5" width="23" height="23"/></g>
<g id="n141" class="n Y"><circle cx="591" cy="416" r="7"/></g>
<g id="n142" class="n Y"><circle cx="537" cy="429" r="7"/></g>
<g id="n143" class="n R"><circle cx="517" cy="419" r="8"/></g>
<g id="n144" class="n Y"><circle cx="471" cy="493" r="8"/></g>
<g id="n145" class="n Y"><circle cx="544" cy="510" r="7"/></g>
<g id="n146" class="n Y"><circle cx="674" cy="502" r="7"/></g>
<g id="n147" class="n Y"><rect x="767.5" y="458.5" width="15" height="15"/></g>
<g id="n148" class="n G"><circle cx="839" cy="423" r="7"/></g>
<g id="n149" class="n Y"><polygon points="189,131 197,139 189,147 181,139"/></g>
<g id="n150" class="n Y"><polygon points="163,185 172,194 163,203 154,194"/></g>
<g id="n151" class="n Y"><polygon points="188,193 196,201 188,209 180,201"/></g>
<g id="n152" class="n Y"><polygon points="149,215 157,223 149,231 141,223"/></g>
<g id="n153" class="n Y"><polygon points="96,230 104,238 96,246 88,238"/></g>
<g id="n154" class="n Y"><polygon points="142,249 152,259 142,269 132,259"/></g>
<g id="n155" class="n R"><circle cx="63" cy="249" r="8"/></g>
<g id="n156" class="n Y"><polygon points="77,279 85,287 77,295 69,287"/></g>
<g id="n157" class="n Y"><polygon points="127,271 137,281 127,291 117,281"/></g>
<g id="n158" class="n Y"><polygon points="151,298 162,309 151,320 140,309"/></g>
<g id="n159" class="n Y"><polygon points="123,343 131,351 123,359 115,351"/></g>
<g id="n160" class="n R"><rect x="60" y="313" width="14" height="14"/></g>
<g id="n161" class="n R"><rect x="37" y="350" width="14" height="14"/></g>
<g id="n162" class="n Y"><polygon points="53,360 61,368 53,376 45,368"/></g>
<g id="n163" class="n R"><rect x="176.5" y="363.5" width="15" height="15"/></g>
<g id="n164" class="n R"><rect x="101.5" y="376.5" width="15" height="15"/></g>
<g id="n165" class="n R"><rect x="91.5" y="422.5" width="15" height="15"/></g>
<g id="n166" class="n R"><rect x="179.5" y="410.5" width="21" height="21"/></g>
<g id="n167" class="n R"><rect x="224.5" y="412.5" width="17" height="17"/></g>
<g id="n168" class="n R"><rect x="182.5" y="434.5" width="17" height="17"/></g>
<g id="n169" class="n Y"><rect x="157.5" y="449.5" width="17" height="17"/></g>
<g id="n170" class="n R"><rect x="278.5" y="463.5" width="17" height="17"/></g>
<g id="n171" class="n R"><rect x="210" y="475" width="14" height="14"/></g>
<g id="n172" class="n R"><rect x="149.5" y="477.5" width="13" height="13"/></g>
<g id="n173" class="n R"><rect x="348" y="477" width="14" height="14"/></g>
<g id="n174" class="n Y"><rect x="174.5" y="497.5" width="13" height="13"/></g>
<g id="n175" class="n R"><rect x="307" y="498" width="14" height="14"/></g>
<g id="n176" class="n Y"><rect x="131" y="515" width="14" height="14"/></g>
<g id="n177" class="n R"><polygon points="168,519 176,527 168,535 160,527"/></g>
<g id="n178" class="n R"><circle cx="323" cy="543" r="7"/></g>
<g id="n179" class="n R"><rect x="412" y="516" width="18" height="18"/></g>
<g id="n180" class="n Y"><polygon points="49,407 56,414 49,421 42,414"/></g>
<g id="n181" class="n Y"><polygon points="49,423 56,430 49,437 42,430"/></g>
<g id="n182" class="n Y"><rect x="39.5" y="439.5" width="13" height="13"/></g>
<g id="n183" class="n G"><rect x="39.5" y="450" width="18" height="17"/></g>
<g id="n184" class="n Y"><rect x="41.5" y="467" width="14" height="14"/></g>
<g id="n185" class="n G"><rect x="41.5" y="482" width="14" height="14"/></g>
<g id="n186" class="n Y"><rect x="41.5" y="497" width="14" height="14"/></g>
<g id="n187" class="n Y"><rect x="41.5" y="512" width="14" height="14"/></g>
<g id="n188" class="n Y"><rect x="41.5" y="527" width="14" height="14"/></g>
<g id="n189" class="n R"><rect x="41.5" y="542" width="14" height="14"/></g>
<g id="n190" class="n Y"><rect x="41.5" y="557" width="14" height="14"/></g>
<g id="n191" class="n Y"><polygon points="48,571 56,579 48,587 40,579"/></g>
<g id="n192" class="n G"><rect x="41.5" y="586" width="14" height="15"/></g>
<g id="n193" class="n Y"><rect x="41.5" y="601" width="14" height="12"/></g>
<g id="n194" class="n Y"><rect x="36" y="612" width="25" height="22"/></g>
<g id="n195" class="n Y"><rect x="41.5" y="633" width="14" height="13"/></g>
<g id="n196" class="n G"><rect x="40.5" y="647" width="16" height="14"/></g>
<g id="n197" class="n B"><circle cx="48" cy="668" r="7"/></g>
<g id="n198" class="n Y"><rect x="41.5" y="677" width="14" height="13"/></g>
<g id="n199" class="n G"><polygon points="49,687 60,698 49,709 38,698"/></g>
<g id="n200" class="n B"><rect x="38" y="705" width="16" height="16"/></g>
<g id="n201" class="n R"><circle cx="49" cy="728" r="7"/></g>
<g id="n202" class="n G"><polygon points="50,733 60,743 50,753 40,743"/></g>
<g id="n204" class="n G"><rect x="225" y="555" width="14" height="14"/></g>
<g id="n205" class="n R"><rect x="283" y="565" width="16" height="16"/></g>
<g id="n206" class="n R"><rect x="207" y="593" width="14" height="14"/></g>
<g id="n207" class="n G"><rect x="311" y="602" width="16" height="16"/></g>
<g id="n208" class="n R"><rect x="257" y="615" width="16" height="16"/></g>
<g id="n209" class="n G"><rect x="355" y="622" width="14" height="14"/></g>
<g id="n210" class="n G"><rect x="329" y="652" width="14" height="14"/></g>
<g id="n211" class="n R"><rect x="328" y="568" width="14" height="14"/></g>
<g id="n212" class="n R"><rect x="360" y="550" width="14" height="14"/></g>
<g id="n213" class="n R"><rect x="372" y="581" width="14" height="14"/></g>
<g id="n214" class="n R"><polygon points="199,557 207,565 199,573 191,565"/></g>
<g id="n215" class="n Y"><rect x="169" y="570" width="14" height="14"/></g>
<g id="n216" class="n R"><rect x="549" y="541" width="20" height="20"/></g>
<g id="n217" class="n R"><rect x="642" y="542" width="14" height="14"/></g>
<g id="n218" class="n Y"><rect x="479.5" y="558.5" width="13" height="13"/></g>
<g id="n219" class="n Y"><rect x="420" y="584" width="16" height="16"/></g>
<g id="n220" class="n R"><rect x="650.5" y="564.5" width="15" height="15"/></g>
<g id="n221" class="n R"><rect x="702" y="556" width="28" height="28"/></g>
<g id="n222" class="n R"><rect x="810" y="565" width="18" height="18"/></g>
<g id="n223" class="n R"><rect x="575" y="589" width="14" height="14"/></g>
<g id="n224" class="n R"><rect x="650" y="596" width="14" height="14"/></g>
<g id="n225" class="n R"><rect x="520" y="601" width="14" height="14"/></g>
<g id="n226" class="n R"><rect x="759" y="600" width="14" height="14"/></g>
<g id="n227" class="n R"><rect x="804" y="588" width="28" height="28"/></g>
<g id="n228" class="n R"><rect x="552" y="621" width="14" height="14"/></g>
<g id="n229" class="n R"><rect x="612" y="622" width="14" height="14"/></g>
<g id="n230" class="n R"><rect x="730.5" y="628.5" width="17" height="17"/></g>
<g id="n231" class="n R"><rect x="812" y="639" width="28" height="28"/></g>
<g id="n232" class="n R"><rect x="760.5" y="650.5" width="13" height="13"/></g>
<g id="n233" class="n R"><rect x="431" y="621" width="14" height="14"/></g>
<g id="n234" class="n R"><rect x="491" y="640" width="16" height="16"/></g>
<g id="n235" class="n R"><rect x="558.5" y="650.5" width="13" height="13"/></g>
<g id="n236" class="n R"><rect x="436" y="678" width="14" height="14"/></g>
<g id="n237" class="n R"><circle cx="597" cy="674" r="12"/></g>
<g id="n238" class="n R"><circle cx="681" cy="674" r="8"/></g>
<g id="n239" class="n R"><circle cx="476" cy="687" r="7"/></g>
<g id="n240" class="n R"><circle cx="614" cy="709" r="7"/></g>
<g id="n241" class="n R"><circle cx="670" cy="712" r="8"/></g>
<g id="n242" class="n R"><circle cx="484" cy="734" r="8"/></g>
<g id="n243" class="n R"><circle cx="543" cy="739" r="14"/></g>
<g id="n244" class="n R"><circle cx="650" cy="735" r="7"/></g>
<g id="n245" class="n R"><circle cx="763" cy="726" r="7"/></g>
<g id="n246" class="n Y"><polygon points="709,682 719,692 709,702 699,692"/></g>
<g id="n247" class="n Y"><polygon points="783,691 792,700 783,709 774,700"/></g>
<g id="n248" class="n R"><rect x="395.5" y="653.5" width="15" height="15"/></g>
<g id="n249" class="n R"><rect x="400" y="707" width="14" height="14"/></g>
<g id="n250" class="n R"><rect x="783" y="520" width="14" height="14"/></g>
<g id="n251" class="n R"><rect x="873" y="494" width="14" height="14"/></g>
<g id="n252" class="n R"><polygon points="917,518 926,527 917,536 908,527"/></g>
<g id="n253" class="n R"><rect x="942.5" y="525.5" width="17" height="17"/></g>
<g id="n254" class="n R"><polygon points="842,518 862,538 842,558 822,538"/></g>
<g id="n255" class="n R"><rect x="890" y="544" width="16" height="16"/></g>
<g id="n256" class="n G"><rect x="1141" y="500" width="30" height="30"/></g>
<g id="n257" class="n G"><rect x="1040.5" y="525.5" width="21" height="21"/></g>
<g id="n258" class="n G"><rect x="1002" y="537" width="18" height="18"/></g>
<g id="n259" class="n G"><rect x="1183.5" y="538.5" width="13" height="13"/></g>
<g id="n260" class="n G"><rect x="1040" y="557" width="28" height="28"/></g>
<g id="n261" class="n G"><rect x="1110" y="557" width="30" height="30"/></g>
<g id="n262" class="n G"><rect x="1155.5" y="581.5" width="23" height="23"/></g>
<g id="n263" class="n G"><rect x="1052" y="592" width="18" height="18"/></g>
<g id="n264" class="n G"><rect x="1008.5" y="583.5" width="13" height="13"/></g>
<g id="n265" class="n G"><rect x="925" y="576" width="24" height="24"/></g>
<g id="n266" class="n G"><rect x="1020" y="606" width="34" height="34"/></g>
<g id="n267" class="n G"><rect x="993" y="632" width="16" height="16"/></g>
<g id="n268" class="n G"><rect x="936.5" y="654.5" width="17" height="17"/></g>
<g id="n269" class="n R"><rect x="891" y="628" width="18" height="18"/></g>
<g id="n270" class="n R"><rect x="890.5" y="676.5" width="13" height="13"/></g>
<g id="n271" class="n R"><rect x="830" y="683" width="14" height="14"/></g>
</g>

<!-- highlighted nodes -->
<g id="rings">
<circle class="ring" cx="576" cy="80" r="28"/>
<circle class="ring" cx="717" cy="61" r="28"/>
<circle class="ring" cx="573" cy="236" r="26"/>
<circle class="ring" cx="581" cy="273" r="26"/>
<circle class="ring" cx="525" cy="299" r="30"/>
<circle class="ring" cx="648" cy="315" r="34"/>
<circle class="ring" cx="608" cy="381" r="25"/>
<circle class="ring" cx="941" cy="342" r="32"/>
<circle class="ring" cx="842" cy="538" r="24"/>
<circle class="ring" cx="1036" cy="621" r="29"/>
</g>

<!-- legend -->
<g id="legend">
<rect x="28" y="766" width="105" height="27" fill="#f00"/>
<rect x="28" y="793" width="105" height="30" fill="#00f"/>
<rect x="461" y="766" width="105" height="29" fill="#007f00"/>
<rect x="461" y="795" width="105" height="28" fill="#ff0"/>
<text class="lg" x="139" y="789" textLength="299" lengthAdjust="spacingAndGlyphs">Wireless Communications</text>
<text class="lg" x="139" y="815" textLength="278" lengthAdjust="spacingAndGlyphs">Optical Communications</text>
<text class="lg" x="571" y="790" textLength="495" lengthAdjust="spacingAndGlyphs">Basic Sciences and Enabling Technologies</text>
<text class="lg" x="571" y="818" textLength="290" lengthAdjust="spacingAndGlyphs">Networks and Multimedia</text>
</g>
</svg>
